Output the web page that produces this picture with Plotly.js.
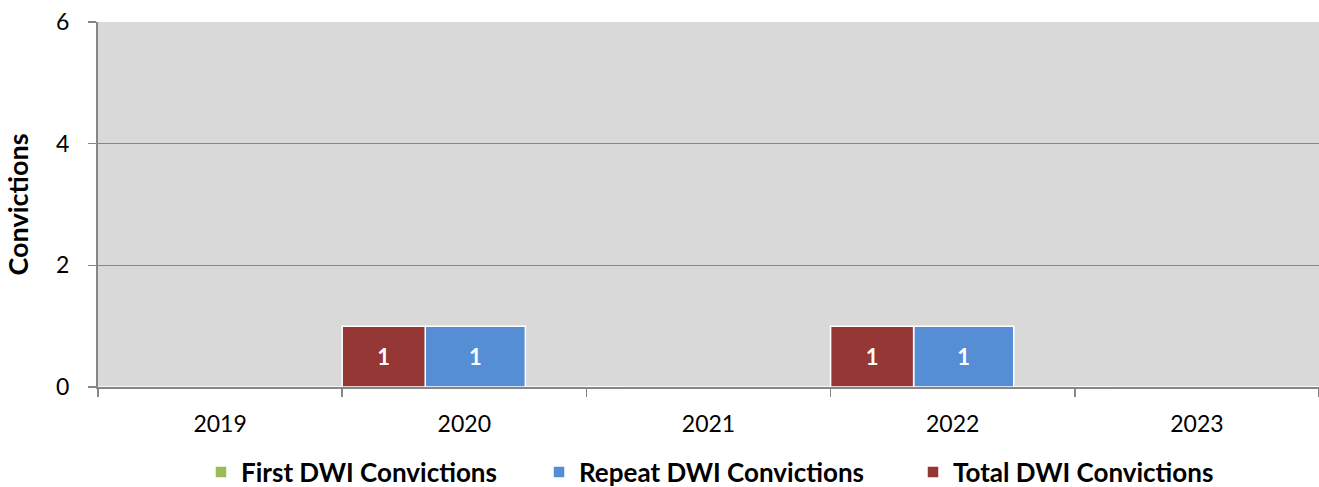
<!DOCTYPE html>
<html>
<head>
<meta charset="utf-8">
<script src="https://cdn.plot.ly/plotly-3.0.1.min.js"></script>
<style>html,body{margin:0;padding:0;background:#fff;}#chart{width:1319px;height:487px;}</style>
</head>
<body>
<div id="chart"></div>
<script>
var years = ['2019', '2020', '2021', '2022', '2023'];
var firstDWI = [0, 0, 0, 0, 0];
var repeatDWI = [0, 1, 0, 1, 0];
var totalDWI = [0, 1, 0, 1, 0];
var yTicks = [0, 2, 4, 6];

function labels(arr) { return arr.map(function (v) { return v ? String(v) : ''; }); }

var FONT = 'Lato, "Open Sans", sans-serif';
var barText = {family: FONT, size: 22, color: '#ffffff', weight: 'bold'};
var W = 1319, H = 487;

function barTrace(name, vals, color, legendId, offset, width) {
  return {type: 'bar', name: name, x: years, y: vals, legend: legendId,
          marker: {color: color, line: {color: '#ffffff', width: 1.5}},
          offset: offset, width: width, text: labels(vals), textposition: 'inside',
          insidetextanchor: 'middle', textfont: barText, insidetextfont: barText,
          textangle: 0, constraintext: 'none', cliponaxis: false, hoverinfo: 'skip'};
}

var traces = [
  barTrace('First DWI Convictions', firstDWI, '#9bbb59', 'legend', 0.25, 0.41),
  barTrace('Repeat DWI Convictions', repeatDWI, '#558ed5', 'legend2', -0.16, 0.41),
  barTrace('Total DWI Convictions', totalDWI, '#953735', 'legend3', -0.5, 0.34)
];

function legendAt(px) {
  return {orientation: 'h', x: px / W, xanchor: 'left', xref: 'container', y: (H - 472) / H, yanchor: 'middle',
          yref: 'container', font: {family: FONT, size: 26, color: '#000', weight: 'bold'}, itemwidth: 30,
          bgcolor: 'rgba(0,0,0,0)', itemclick: false};
}

var layout = {
  width: W, height: H,
  margin: {l: 98, r: 0, t: 22, b: 100, pad: 0},
  paper_bgcolor: '#ffffff', plot_bgcolor: '#d9d9d9',
  barmode: 'overlay',
  showlegend: true,
  legend: legendAt(201),
  legend2: legendAt(539),
  legend3: legendAt(913),
  xaxis: {type: 'category', tickson: 'boundaries', ticks: 'outside', ticklen: 8, tickwidth: 1.5, tickcolor: '#868686',
          showline: true, linecolor: '#868686', linewidth: 2, showgrid: false, zeroline: false,
          tickfont: {family: FONT, size: 23, color: '#000'}, ticklabelstandoff: 15, range: [-0.5, 4.5]},
  yaxis: {range: [0, 6], tickvals: yTicks, ticktext: yTicks.map(String), ticks: 'outside', ticklen: 8, tickwidth: 1.5,
          tickcolor: '#868686', showline: true, linecolor: '#868686', linewidth: 2, showgrid: true,
          gridcolor: '#868686', gridwidth: 1.5, zeroline: false,
          tickfont: {family: FONT, size: 23, color: '#000'}, ticklabelstandoff: 14,
          title: {text: 'Convictions', font: {family: FONT, size: 27, color: '#000', weight: 'bold'}, standoff: 20}},
  font: {family: FONT}
};

Plotly.newPlot('chart', traces, layout, {displayModeBar: false, staticPlot: true});
</script>
</body>
</html>
